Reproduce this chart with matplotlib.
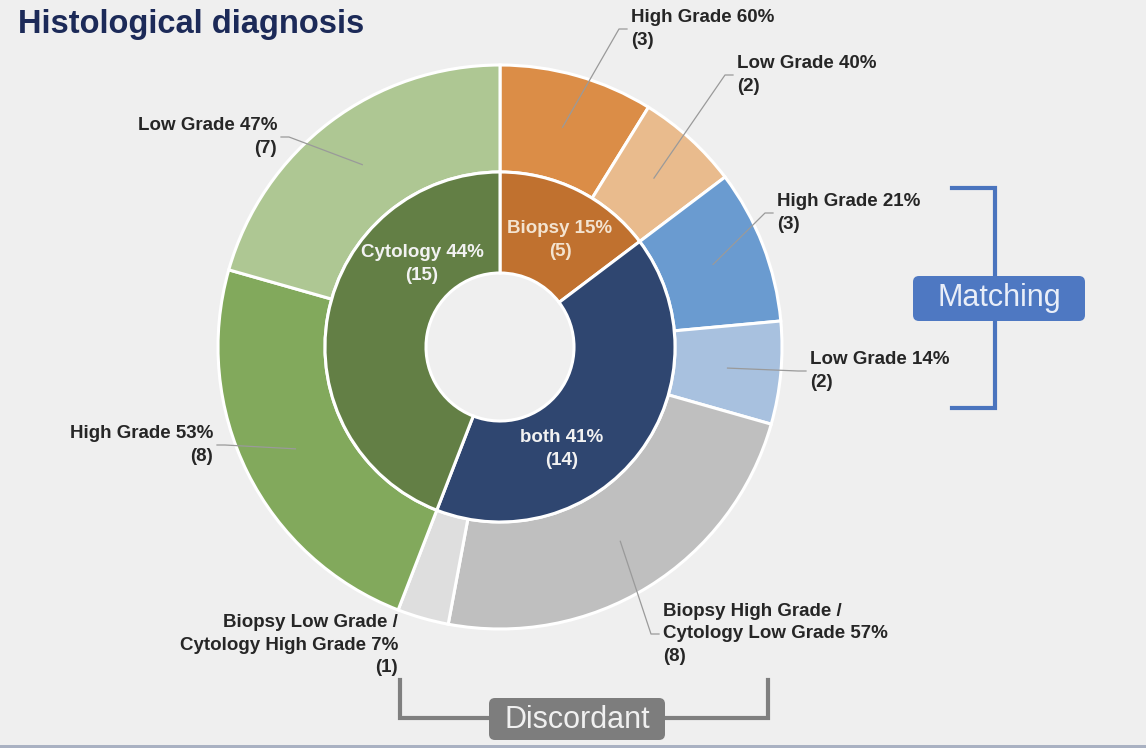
import numpy as np
import matplotlib.pyplot as plt
from matplotlib.patches import FancyBboxPatch, Rectangle

plt.rcParams['font.family'] = ['Liberation Sans', 'DejaVu Sans']

W, H = 1146, 748

# inner ring
groups = ["Biopsy", "both", "Cytology"]
group_counts = [5, 14, 15]
group_pcts = [15, 41, 44]
group_colors = ["#c0712f", "#2f4670", "#637f45"]
group_text_colors = ["#f3e3d0", "#f2f2f2", "#f2f2f2"]

# outer ring
sub_names = ["High Grade", "Low Grade", "High Grade", "Low Grade",
             "Biopsy High Grade /\nCytology Low Grade",
             "Biopsy Low Grade /\nCytology High Grade",
             "High Grade", "Low Grade"]
sub_counts = [3, 2, 3, 2, 8, 1, 8, 7]
sub_pcts = [60, 40, 21, 14, 57, 7, 53, 47]
sub_colors = ["#db8d47", "#e9bb8d", "#6a9bd0", "#a8c1df",
              "#bfbfbf", "#dedede", "#82a95c", "#aec793"]

# layout (pixels, y from top)
cx, cy = 500, 347
r_out, r_mid, r_hole = 282, 175, 74
sub_label_pos = [(631, 29, "left"), (737, 75, "left"), (777, 213, "left"),
                 (810, 371, "left"), (663, 634, "left"), (398, 645, "right"),
                 (213, 445, "right"), (277, 137, "right")]
sub_leader = [True, True, True, True, True, False, True, True]
group_label_pos = [(560, 240), (562, 449), (422, 264)]

fig = plt.figure(figsize=(W / 100, H / 100), dpi=100)
fig.patch.set_facecolor("#efefef")
ax = fig.add_axes([0, 0, 1, 1])
ax.set_facecolor("#efefef")

outer, _ = ax.pie(sub_counts, radius=r_out, center=(cx, H - cy), startangle=90,
                  counterclock=False, colors=sub_colors,
                  wedgeprops=dict(width=r_out - r_mid, edgecolor="white", linewidth=2.2))
inner, _ = ax.pie(group_counts, radius=r_mid, center=(cx, H - cy), startangle=90,
                  counterclock=False, colors=group_colors,
                  wedgeprops=dict(width=r_mid - r_hole, edgecolor="white", linewidth=2.2))
ax.set_aspect("auto")
ax.set_xlim(0, W)
ax.set_ylim(0, H)
ax.axis("off")

lbl = dict(fontsize=13.5, fontweight="bold", color="#262626", va="center", linespacing=1.4)
rm = (r_out + r_mid) / 2
for w, name, n, p, (tx, ty, ha), lead in zip(outer, sub_names, sub_counts, sub_pcts,
                                            sub_label_pos, sub_leader):
    ax.text(tx, H - ty, f"{name} {p}%\n({n})", ha=ha, multialignment=ha, **lbl)
    if lead:
        # leader from middle of the wedge to the label
        a = np.deg2rad((w.theta1 + w.theta2) / 2)
        x0, y0 = cx + rm * np.cos(a), H - cy + rm * np.sin(a)
        s = 1 if ha == "left" else -1
        ax.plot([x0, tx - s * 12, tx - s * 4], [y0, H - ty, H - ty],
                color="#9a9a9a", lw=0.9, zorder=5)

for g, n, p, (tx, ty), tc in zip(groups, group_counts, group_pcts, group_label_pos,
                                 group_text_colors):
    ax.text(tx, H - ty, f"{g} {p}%\n({n})", ha="center", multialignment="center",
            fontsize=13.5, fontweight="bold", color=tc, va="center", linespacing=1.4)

ax.text(18, H - 24, "Histological diagnosis", fontsize=23.5, fontweight="bold",
        color="#1c2a58", va="center", ha="left")

# Matching bracket
blue = "#4a74be"
ax.plot([952, 995, 995, 952], [H - 188, H - 188, H - 408, H - 408], color=blue, lw=3,
        solid_joinstyle="miter")
ax.add_patch(FancyBboxPatch((913, H - 321), 172, 45, boxstyle="round,pad=0,rounding_size=6",
                            fc="#4e78c2", ec="none", zorder=6))
ax.text(999, H - 298, "Matching", fontsize=22, color="#e9eef8", ha="center", va="center",
        zorder=7)

# Discordant bracket
grey = "#7f7f7f"
ax.plot([400, 400, 768, 768], [H - 680, H - 718, H - 718, H - 680], color=grey, lw=3,
        solid_joinstyle="miter")
ax.add_patch(FancyBboxPatch((489, H - 740), 176, 42, boxstyle="round,pad=0,rounding_size=6",
                            fc="#7d7d7d", ec="none", zorder=6))
ax.text(577, H - 720, "Discordant", fontsize=22, color="#f0f0f0", ha="center", va="center",
        zorder=7)

ax.add_patch(Rectangle((0, 0), W, 3, fc="#a9b1c2", ec="none"))

fig.savefig("out.png", dpi=100, facecolor=fig.get_facecolor())
